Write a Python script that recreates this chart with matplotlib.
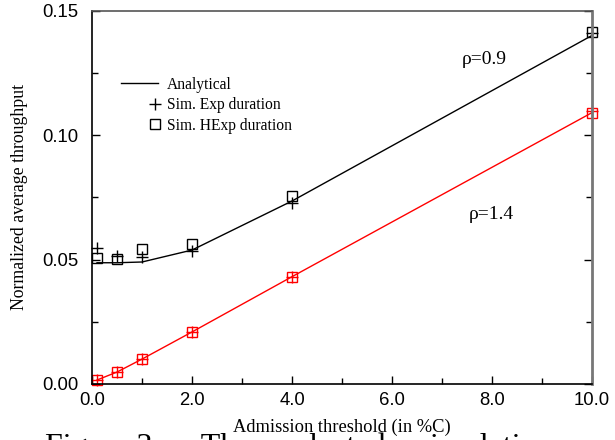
import numpy as np
import matplotlib.pyplot as plt
from matplotlib.legend_handler import HandlerLine2D

# admission threshold (%C)
thresh = [0.1, 0.5, 1.0, 2.0, 4.0, 10.0]

# rho = 0.9
ana_09 = [0.0487, 0.0487, 0.0490, 0.0538, 0.0735, 0.1400]
exp_09 = [0.0546, 0.0514, 0.0510, 0.0535, 0.0727, 0.1410]
hexp_09 = [0.0506, 0.0502, 0.0543, 0.0562, 0.0755, 0.1415]

# rho = 1.4
ana_14 = [0.0016, 0.0048, 0.0100, 0.0209, 0.0431, 0.1090]
exp_14 = [0.0016, 0.0048, 0.0100, 0.0209, 0.0431, 0.1095]
hexp_14 = [0.0016, 0.0048, 0.0100, 0.0209, 0.0431, 0.1090]

xticks = [0, 2, 4, 6, 8, 10]
xtick_labels = ['0.0', '2.0', '4.0', '6.0', '8.0', '10.0']
yticks = [0.0, 0.05, 0.10, 0.15]
ytick_labels = ['0.00', '0.05', '0.10', '0.15']

serif = 'Liberation Serif'
sans = 'Liberation Sans'


class RightMarkerHandler(HandlerLine2D):
    # put the legend marker at the right end of the handle, next to the label
    def get_xdata(self, legend, xdescent, ydescent, width, height, fontsize):
        xm = -xdescent + width - 0.2 * fontsize
        return [xm, xm], [xm]


fig = plt.figure(figsize=(6.15, 4.4), dpi=100)
ax = fig.add_axes([0.1496, 0.1273, 0.813, 0.8487])

l_ana, = ax.plot(thresh, ana_09, color='black', lw=1.0, label='Analytical', clip_on=False)
l_exp, = ax.plot(thresh, exp_09, ls='none', marker='+', ms=9, mew=1.0, color='black',
                 label='Sim. Exp duration', clip_on=False)
l_hexp, = ax.plot(thresh, hexp_09, ls='none', marker='s', ms=7.5, mew=1.0, mfc='none',
                  mec='black', label='Sim. HExp duration', clip_on=False)

ax.plot(thresh, ana_14, color='red', lw=1.0, clip_on=False)
ax.plot(thresh, exp_14, ls='none', marker='+', ms=9, mew=1.0, color='red', clip_on=False)
ax.plot(thresh, hexp_14, ls='none', marker='s', ms=7.5, mew=1.0, mfc='none', mec='red',
        clip_on=False)

ax.set_xlim(0, 10)
ax.set_ylim(0, 0.15)
ax.set_xticks(xticks)
ax.set_xticklabels(xtick_labels, family=sans, fontsize=13.3)
ax.set_yticks(yticks)
ax.set_yticklabels(ytick_labels, family=sans, fontsize=13.3)
ax.set_xticks(np.arange(1, 10, 2), minor=True)
ax.set_yticks([0.025, 0.075, 0.125], minor=True)
ax.tick_params(which='both', direction='in', top=False, right=True, width=1.0)
ax.tick_params(which='major', length=6)
ax.tick_params(which='minor', length=4)
ax.tick_params(axis='x', which='major', pad=6)
ax.tick_params(axis='y', which='major', pad=10)

for s in ['left', 'bottom']:
    ax.spines[s].set_linewidth(1.2)
ax.spines['right'].set_color('#777777')
ax.spines['right'].set_linewidth(2.0)
ax.spines['top'].set_color('#555555')
ax.spines['top'].set_linewidth(1.2)

ax.set_xlabel('Admission threshold (in %C)', family=serif, fontsize=13.3, labelpad=7)
ax.set_ylabel('Normalized average throughput', family=serif, fontsize=12.8, labelpad=10)

ax.text(7.85, 0.1305, 'ρ=0.9', family=serif, fontsize=14, ha='center', va='center')
ax.text(7.99, 0.0679, 'ρ=1.4', family=serif, fontsize=14, ha='center', va='center')

handler = RightMarkerHandler(numpoints=1)
ax.legend(handles=[l_ana, l_exp, l_hexp], loc='upper left', bbox_to_anchor=(0.045, 0.84),
          frameon=False, prop={'family': serif, 'size': 11.2}, handlelength=2.4,
          handletextpad=0.55, labelspacing=0.3, borderaxespad=0,
          handler_map={l_ana: HandlerLine2D(), l_exp: handler, l_hexp: handler})

fig.text(0.073, -0.034, 'Figure 3:     The    selected    simulation    and', family=serif,
         fontsize=23, ha='left', va='baseline')

fig.savefig('out.png', dpi=100)
